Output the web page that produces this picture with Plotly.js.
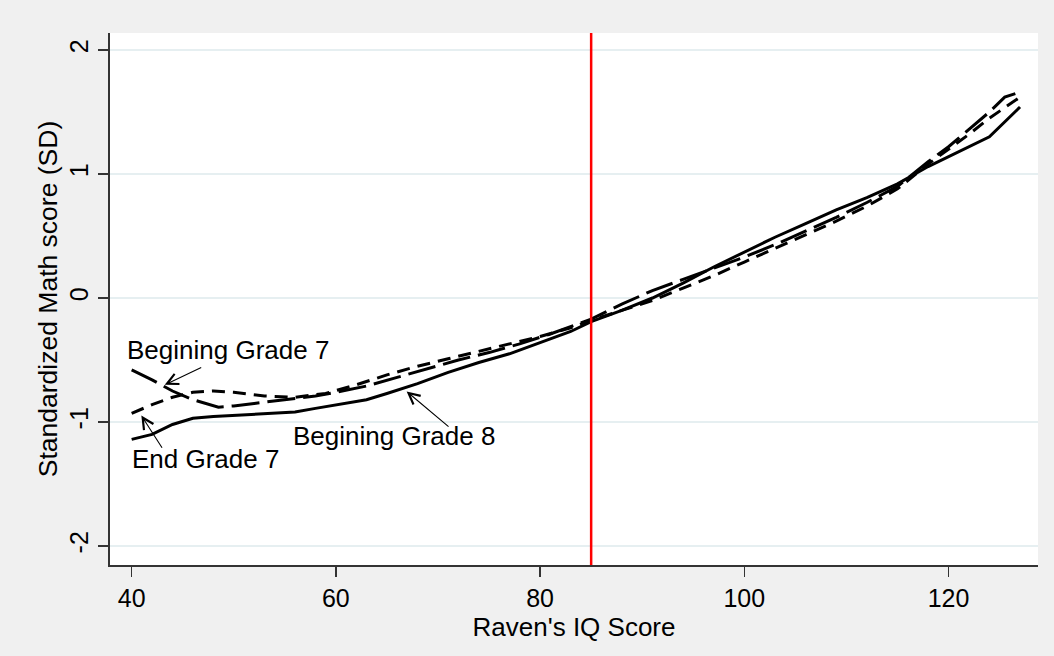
<!DOCTYPE html>
<html>
<head>
<meta charset="utf-8">
<script src="https://cdn.plot.ly/plotly-3.0.1.min.js"></script>
<style>html,body{margin:0;padding:0;background:#f0f0f0;}#chart{width:1054px;height:656px;}</style>
</head>
<body>
<div id="chart"></div>
<script>
// Begining Grade 8 (solid)
const bg8X = [40, 42, 44, 46, 48, 50, 52, 56, 58, 60, 63, 65, 68, 71, 74, 77, 80, 83, 85, 88, 91, 94, 97, 100, 103, 106, 109, 112, 115, 118, 121, 124, 127];
const bg8Y = [-1.14, -1.10, -1.02, -0.97, -0.955, -0.945, -0.935, -0.92, -0.89, -0.86, -0.82, -0.77, -0.69, -0.60, -0.52, -0.45, -0.36, -0.27, -0.19, -0.10, 0.00, 0.12, 0.25, 0.37, 0.49, 0.60, 0.71, 0.81, 0.92, 1.06, 1.18, 1.30, 1.54];
// Begining Grade 7 (long dash)
const bg7X = [40, 42, 44, 46, 48.5, 50, 52, 55, 58, 60, 63, 66, 69, 72, 75, 78, 81, 85, 88, 91, 94, 97, 100, 103, 106, 109, 112, 115, 118, 120, 122, 124, 125.5, 127];
const bg7Y = [-0.58, -0.66, -0.75, -0.82, -0.88, -0.87, -0.85, -0.82, -0.79, -0.76, -0.71, -0.64, -0.57, -0.50, -0.44, -0.37, -0.29, -0.17, -0.05, 0.06, 0.15, 0.24, 0.33, 0.43, 0.54, 0.65, 0.77, 0.90, 1.10, 1.22, 1.36, 1.50, 1.62, 1.66];
// End Grade 7 (short dash)
const eg7X = [40, 42, 44, 46, 48, 50, 53, 56, 59, 62, 65, 68, 71, 74, 77, 80, 83, 85, 88, 91, 94, 97, 100, 103, 106, 109, 112, 115, 118, 120, 122, 124, 126, 127];
const eg7Y = [-0.93, -0.86, -0.80, -0.76, -0.75, -0.76, -0.79, -0.80, -0.77, -0.70, -0.62, -0.55, -0.49, -0.43, -0.37, -0.31, -0.24, -0.18, -0.10, -0.02, 0.08, 0.18, 0.29, 0.40, 0.51, 0.62, 0.74, 0.88, 1.08, 1.20, 1.32, 1.45, 1.56, 1.62];

const cutoff = 85;
const xTicks = [40, 60, 80, 100, 120];
const yTicks = [-2, -1, 0, 1, 2];
const xTitle = "Raven's IQ Score";
const yTitle = "Standardized Math score (SD)";

// label texts and anchor points (data coords)
const labelTexts = ["Begining Grade 7", "End Grade 7", "Begining Grade 8"];
const labelX = [39.3, 39.8, 55.6];
const labelY = [-0.42, -1.30, -1.11];
// arrows: head and tail
const arrowHeadX = [43.24, 40.95, 66.93];
const arrowHeadY = [-0.70, -0.948, -0.753];
const arrowTailX = [46.96, 43.07, 71.18];
const arrowTailY = [-0.554, -1.22, -1.047];

const FONT = "Liberation Sans, Arial, Helvetica, sans-serif";

const traces = [
  {x: bg8X, y: bg8Y, mode: 'lines', line: {color: '#000', width: 3}, name: 'Begining Grade 8', hoverinfo: 'skip'},
  {x: bg7X, y: bg7Y, mode: 'lines', line: {color: '#000', width: 3, dash: '28px,8px'}, name: 'Begining Grade 7', hoverinfo: 'skip'},
  {x: eg7X, y: eg7Y, mode: 'lines', line: {color: '#000', width: 3, dash: '13px,8px'}, name: 'End Grade 7', hoverinfo: 'skip'}
];

const annotations = [];
labelTexts.forEach((t, i) => {
  annotations.push({x: labelX[i], y: labelY[i], xref: 'x', yref: 'y', text: t, showarrow: false,
    xanchor: 'left', yanchor: 'middle', font: {family: FONT, size: 26, color: '#000'}});
  annotations.push({x: arrowHeadX[i], y: arrowHeadY[i], ax: arrowTailX[i], ay: arrowTailY[i],
    xref: 'x', yref: 'y', axref: 'x', ayref: 'y', text: '', showarrow: true,
    arrowhead: 5, arrowsize: 2, arrowwidth: 1.1, arrowcolor: '#000', standoff: 0, startstandoff: 0});
});

const layout = {
  width: 1054, height: 656,
  paper_bgcolor: '#f0f0f0', plot_bgcolor: '#ffffff',
  margin: {l: 110, r: 16, t: 33, b: 91},
  showlegend: false,
  font: {family: FONT, color: '#000'},
  xaxis: {
    range: [37.88, 128.76], tickvals: xTicks, ticktext: xTicks.map(String),
    showgrid: false, zeroline: false, showline: true, linecolor: '#333', linewidth: 2,
    ticks: 'outside', ticklen: 10, tickwidth: 1.5, tickcolor: '#333',
    tickfont: {family: FONT, size: 25, color: '#000'},
    title: {text: xTitle, font: {family: FONT, size: 26, color: '#000'}, standoff: 2}
  },
  yaxis: {
    range: [-2.153, 2.137], tickvals: yTicks, ticktext: yTicks.map(String),
    showgrid: true, gridcolor: '#e6eff1', gridwidth: 1.5,
    zeroline: false, showline: true, linecolor: '#333', linewidth: 2,
    ticks: 'outside', ticklen: 10, tickwidth: 1.5, tickcolor: '#333', tickangle: -90,
    tickfont: {family: FONT, size: 25, color: '#000'},
    title: {text: yTitle, font: {family: FONT, size: 26.5, color: '#000'}, standoff: 0}
  },
  shapes: [{type: 'line', xref: 'x', yref: 'paper', x0: cutoff, x1: cutoff, y0: 0, y1: 1,
    line: {color: '#ff0000', width: 2.5}}],
  annotations: annotations
};

Plotly.newPlot('chart', traces, layout, {displayModeBar: false, staticPlot: true});
</script>
</body>
</html>
